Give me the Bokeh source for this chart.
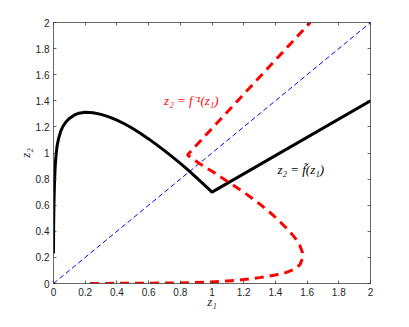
from bokeh.plotting import figure
from bokeh.models import LinearAxis, Range1d, FixedTicker, NumeralTickFormatter, Label, CustomJSTickFormatter
from bokeh.embed import file_html
from bokeh.resources import INLINE

# ---- data ----
ticks = [0, 0.2, 0.4, 0.6, 0.8, 1.0, 1.2, 1.4, 1.6, 1.8, 2.0]

f_z1 = [0, 0.001, 0.003, 0.006, 0.01, 0.015, 0.022, 0.032, 0.045, 0.06, 0.08, 0.1,
        0.13, 0.16, 0.2, 0.25, 0.3, 0.35, 0.4, 0.45, 0.5, 0.55, 0.6, 0.65, 0.7,
        0.75, 0.8, 0.85, 0.9, 0.95, 1.0, 2.0]
f_z2 = [0.23, 0.45, 0.62, 0.76, 0.88, 0.97, 1.05, 1.11, 1.165, 1.205, 1.24, 1.265,
        1.29, 1.305, 1.312, 1.308, 1.296, 1.277, 1.252, 1.222, 1.188, 1.150, 1.108,
        1.064, 1.018, 0.970, 0.920, 0.868, 0.813, 0.757, 0.70, 1.40]

inv_z1 = [0.23, 0.5, 0.8, 1.0, 1.1, 1.2, 1.3, 1.4, 1.47, 1.52, 1.555, 1.572, 1.57,
          1.555, 1.53, 1.49, 1.44, 1.38, 1.3, 1.2, 1.1, 1.0, 0.92, 0.845, 1.62]
inv_z2 = [0.0, 0.002, 0.004, 0.012, 0.02, 0.03, 0.045, 0.065, 0.085, 0.11, 0.145,
          0.195, 0.24, 0.29, 0.34, 0.40, 0.46, 0.53, 0.61, 0.70, 0.78, 0.86, 0.92,
          0.985, 2.0]

diag_z1 = [0, 2]
diag_z2 = [0, 2]

label_inv = "z\u2082 = f\u207b\u00b9(z\u2081)"
label_f = "z\u2082 = f\u0303(z\u2081)"
xlabel = "z\u2081"
ylabel = "z\u2082"

AX = "#262626"
SERIF = "Liberation Serif"

p = figure(width=393, height=311, x_range=Range1d(0, 2), y_range=Range1d(0, 2),
           output_backend="svg", toolbar_location=None,
           min_border_left=53, min_border_right=23, min_border_top=22, min_border_bottom=26)
p.grid.visible = False
p.outline_line_color = None
p.background_fill_color = "white"
p.border_fill_color = "white"

p.line(diag_z1, diag_z2, line_color="#0000ff", line_width=1, line_dash="5 3")
p.line(f_z1, f_z2, line_color="black", line_width=3)
p.line(inv_z1, inv_z2, line_color="#ff0000", line_width=3, line_dash="9 6")

def style_axis(ax, labels=True):
    ax.ticker = FixedTicker(ticks=ticks)
    ax.axis_line_color = AX
    ax.axis_line_width = 0.7
    ax.major_tick_line_color = AX
    ax.major_tick_line_width = 0.7
    ax.major_tick_in = 3
    ax.major_tick_out = 0
    ax.minor_tick_line_color = None
    if labels:
        ax.formatter = NumeralTickFormatter(format="0.[0]")
        ax.major_label_text_font = "Liberation Sans"
        ax.major_label_text_font_size = "10px"
        ax.major_label_text_color = AX
    else:
        ax.formatter = CustomJSTickFormatter(code="return ''")
        ax.major_label_text_font_size = "0px"

style_axis(p.xaxis[0])
style_axis(p.yaxis[0])
p.xaxis[0].major_label_standoff = 4
p.yaxis[0].major_label_standoff = 4

for ax, lab, so in ((p.yaxis[0], ylabel, 0), (p.xaxis[0], xlabel, -5)):
    ax.axis_label = lab
    ax.axis_label_text_font = SERIF
    ax.axis_label_text_font_style = "italic"
    ax.axis_label_text_font_size = "13px"
    ax.axis_label_text_color = AX
    ax.axis_label_standoff = so

top = LinearAxis()
right = LinearAxis()
style_axis(top, labels=False)
style_axis(right, labels=False)
p.add_layout(top, "above")
p.add_layout(right, "right")

p.add_layout(Label(x=0.87, y=1.40, text=label_inv, text_align="center",
                   text_baseline="middle", text_font=SERIF, text_font_style="italic",
                   text_font_size="13px", text_color="#ff0000"))
p.add_layout(Label(x=1.56, y=0.87, text=label_f, text_align="center",
                   text_baseline="middle", text_font=SERIF, text_font_style="italic",
                   text_font_size="13px", text_color="black"))

open("out.html", "w").write(file_html(p, INLINE))
